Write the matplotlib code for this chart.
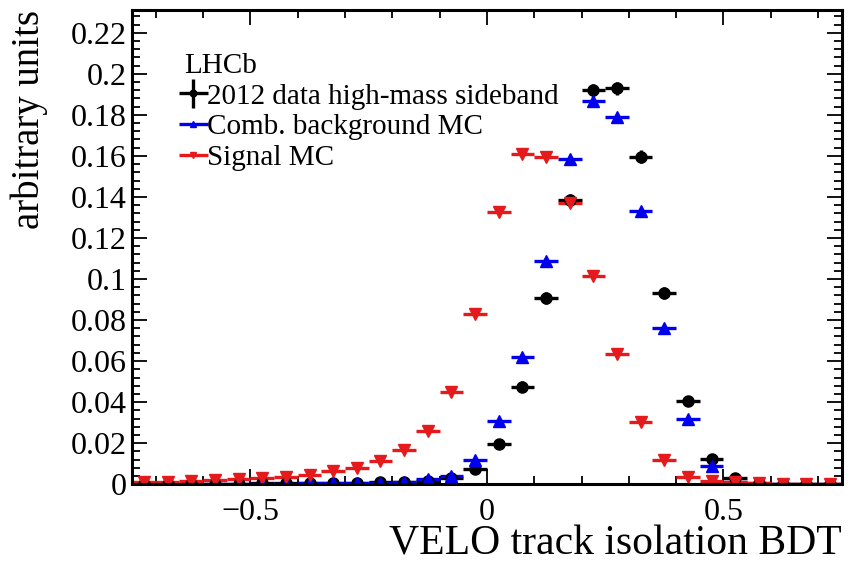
import numpy as np
import matplotlib
matplotlib.use("Agg")
import matplotlib.pyplot as plt
from matplotlib.ticker import MultipleLocator, FuncFormatter

plt.rcParams['font.family'] = ['Liberation Serif', 'DejaVu Serif']

# 30 bins of width 0.05 between -0.75 and 0.75
bin_edges = np.linspace(-0.75, 0.75, 31)
bin_centers = 0.5 * (bin_edges[:-1] + bin_edges[1:])
half_width = 0.025

data_sideband = [0.0002, 0.0002, 0.0003, 0.0003, 0.0003, 0.0004, 0.0004, 0.0005, 0.0006, 0.0007,
                 0.0009, 0.0010, 0.0016, 0.0030, 0.0072, 0.0198, 0.0475, 0.0909, 0.1385, 0.1919,
                 0.1930, 0.1597, 0.0933, 0.0405, 0.0125, 0.0028, 0.0006, 0.0002, 0.0001, 0.0000]
data_err = [0.0002, 0.0002, 0.0002, 0.0002, 0.0002, 0.0002, 0.0002, 0.0003, 0.0003, 0.0003,
            0.0003, 0.0004, 0.0005, 0.0007, 0.0011, 0.0018, 0.0027, 0.0030, 0.0030, 0.0032,
            0.0032, 0.0030, 0.0028, 0.0018, 0.0010, 0.0005, 0.0002, 0.0001, 0.0001, 0.0000]
comb_bkg_mc = [0.0002, 0.0002, 0.0002, 0.0002, 0.0002, 0.0003, 0.0003, 0.0004, 0.0004, 0.0005,
               0.0007, 0.0012, 0.0024, 0.0039, 0.0117, 0.0307, 0.0621, 0.1090, 0.1584, 0.1868,
               0.1789, 0.1333, 0.0762, 0.0320, 0.0088, 0.0012, 0.0003, 0.0001, 0.0000, 0.0000]
signal_mc = [0.0011, 0.0012, 0.0018, 0.0020, 0.0026, 0.0031, 0.0036, 0.0045, 0.0063, 0.0081,
             0.0112, 0.0166, 0.0257, 0.0448, 0.0829, 0.1325, 0.1610, 0.1597, 0.1370, 0.1016,
             0.0633, 0.0304, 0.0117, 0.0036, 0.0016, 0.0009, 0.0005, 0.0003, 0.0002, 0.0001]

fig = plt.figure(figsize=(8.58, 5.67), dpi=100)
ax = fig.add_axes([0.154, 0.146, 0.827, 0.836])

RED = '#e41a1c'
BLUE = '#0000ee'

h_dat = ax.errorbar(bin_centers, data_sideband, xerr=half_width, yerr=data_err, fmt='o',
                    color='black', ms=8, elinewidth=2.4, capsize=0,
                    label='2012 data high-mass sideband')
h_bkg = ax.errorbar(bin_centers, comb_bkg_mc, xerr=half_width, fmt='^', color=BLUE,
                    ms=8, elinewidth=2.4, capsize=0, label='Comb. background MC')
h_sig = ax.errorbar(bin_centers, signal_mc, xerr=half_width, fmt='v', color=RED,
                    ms=8, elinewidth=2.4, capsize=0, label='Signal MC')

ax.set_xlim(-0.75, 0.75)
ax.set_ylim(0, 0.231)


def fmt_tick(v, pos):
    return ('%g' % round(v, 6)).replace('-', '\u2212')


ax.xaxis.set_major_locator(MultipleLocator(0.5))
ax.xaxis.set_minor_locator(MultipleLocator(0.1))
ax.yaxis.set_major_locator(MultipleLocator(0.02))
ax.yaxis.set_minor_locator(MultipleLocator(0.004))
ax.yaxis.set_major_formatter(FuncFormatter(fmt_tick))
ax.xaxis.set_major_formatter(FuncFormatter(fmt_tick))

ax.tick_params(which='both', direction='in', top=True, right=True, width=1.3,
               labelsize=23, colors='black')
ax.tick_params(which='major', length=11)
ax.tick_params(which='minor', length=6)
ax.tick_params(axis='x', which='major', pad=10)
ax.tick_params(axis='y', which='major', pad=4)
for sp in ax.spines.values():
    sp.set_linewidth(2.2)

ax.set_xlabel('VELO track isolation BDT', fontsize=30, loc='right')
ax.xaxis.set_label_coords(1.0, -0.168, transform=ax.transAxes)
ax.xaxis.label.set_va('bottom')
ax.set_ylabel('arbitrary units', fontsize=28, loc='top')
ax.yaxis.set_label_coords(-0.118, 1.0, transform=ax.transAxes)

leg = ax.legend(handles=[h_dat, h_bkg, h_sig], title='LHCb', loc='upper left',
                bbox_to_anchor=(0.074, 0.91), frameon=False, fontsize=21,
                title_fontsize=21, handlelength=0.6, handletextpad=0.15,
                borderpad=0, borderaxespad=0, labelspacing=0.15, alignment='left',
                markerscale=0.6)

fig.savefig('out.png', dpi=100)
